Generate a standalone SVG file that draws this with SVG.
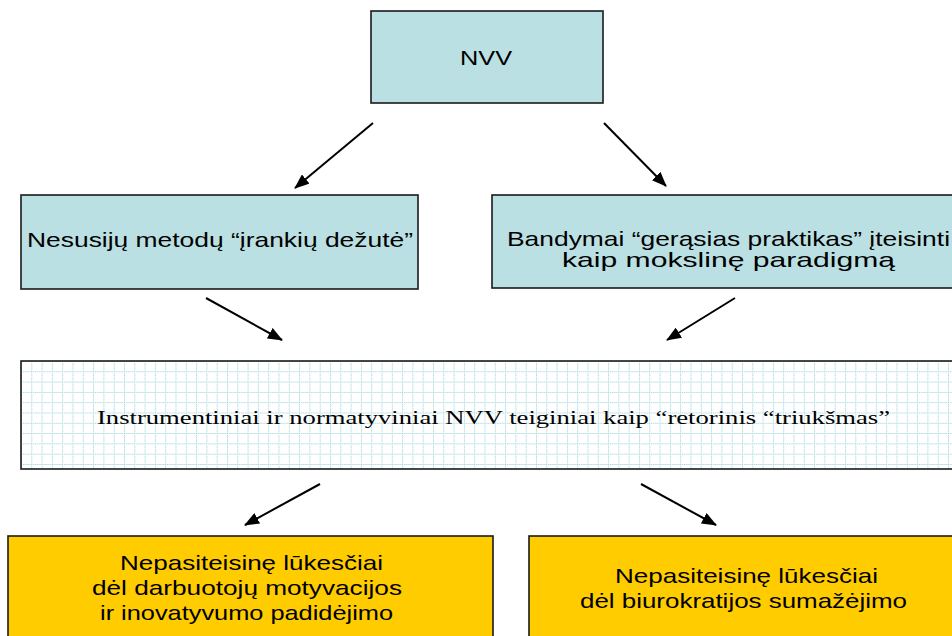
<svg xmlns="http://www.w3.org/2000/svg" width="952" height="636" viewBox="0 0 952 636">
  <style>
    .box { stroke: #1a1a1a; stroke-width: 1.6; }
    .blue { fill: #bbe0e3; }
    .gold { fill: #ffcc00; }
    .sans { font-family: "Liberation Sans", Arial, sans-serif; font-size: 21px; fill: #000; text-anchor: middle; }
    .serif { font-family: "Liberation Serif", "Times New Roman", serif; font-size: 19px; fill: #000; text-anchor: middle; }
    .conn { stroke: #000; stroke-width: 2; fill: none; marker-end: url(#head); }
  </style>
  <defs>
    <marker id="head" markerUnits="userSpaceOnUse" markerWidth="15" markerHeight="12" refX="14" refY="6" orient="auto">
      <path d="M0,0 L15,6 L0,12 Z" fill="#000"/>
    </marker>
    <pattern id="grid" x="21" y="361" width="10.3" height="10.3" patternUnits="userSpaceOnUse">
      <rect width="10.3" height="10.3" fill="#fff"/>
      <path d="M0,0.5 H10.3 M0.5,0 V10.3" stroke="#8ccdd6" stroke-width="1" stroke-dasharray="1 1"/>
    </pattern>
  </defs>
  <rect width="952" height="636" fill="#fff"/>

  <g id="nvv">
    <rect class="box blue" x="371" y="11" width="232" height="92"/>
    <text class="sans" x="486" y="65" textLength="52" lengthAdjust="spacingAndGlyphs">NVV</text>
  </g>

  <g id="toolbox">
    <rect class="box blue" x="21" y="195" width="397" height="94"/>
    <text class="sans" x="220" y="247" textLength="386" lengthAdjust="spacingAndGlyphs">Nesusijų metodų “įrankių dežutė”</text>
  </g>

  <g id="practices">
    <rect class="box blue" x="492" y="195" width="480" height="93"/>
    <text class="sans" x="728.5" y="246" textLength="443" lengthAdjust="spacingAndGlyphs">Bandymai “gerąsias praktikas” įteisinti</text>
    <text class="sans" x="728.5" y="267" textLength="333" lengthAdjust="spacingAndGlyphs">kaip mokslinę paradigmą</text>
  </g>

  <g id="rhetoric">
    <rect class="box" x="21" y="361" width="950" height="108" fill="url(#grid)"/>
    <text class="serif" x="493.5" y="424" textLength="793" lengthAdjust="spacingAndGlyphs">Instrumentiniai ir normatyviniai NVV teiginiai kaip  “retorinis “triukšmas”</text>
  </g>

  <g id="motivation">
    <rect class="box gold" x="8" y="536" width="485" height="120"/>
    <text class="sans" x="251.5" y="570" textLength="263" lengthAdjust="spacingAndGlyphs">Nepasiteisinę lūkesčiai</text>
    <text class="sans" x="247" y="595" textLength="310" lengthAdjust="spacingAndGlyphs">dėl darbuotojų motyvacijos</text>
    <text class="sans" x="246.5" y="620" textLength="293" lengthAdjust="spacingAndGlyphs">ir inovatyvumo padidėjimo</text>
  </g>

  <g id="bureaucracy">
    <rect class="box gold" x="529" y="536" width="450" height="120"/>
    <text class="sans" x="746.5" y="583" textLength="263" lengthAdjust="spacingAndGlyphs">Nepasiteisinę lūkesčiai</text>
    <text class="sans" x="743.5" y="608" textLength="327" lengthAdjust="spacingAndGlyphs">dėl biurokratijos sumažėjimo</text>
  </g>

  <g id="connectors">
    <line class="conn" x1="373" y1="123" x2="295" y2="188"/>
    <line class="conn" x1="604" y1="123" x2="666" y2="186"/>
    <line class="conn" x1="206" y1="298" x2="282" y2="340"/>
    <line class="conn" x1="735" y1="298" x2="667" y2="340"/>
    <line class="conn" x1="320" y1="484" x2="245" y2="525"/>
    <line class="conn" x1="641" y1="484" x2="716" y2="525"/>
  </g>
</svg>
